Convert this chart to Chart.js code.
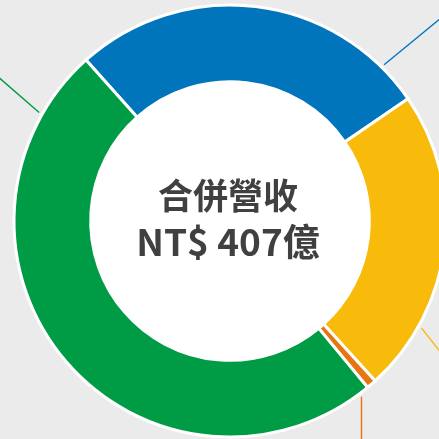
<!DOCTYPE html>
<html>
<head>
<meta charset="utf-8">
<script src="https://cdn.jsdelivr.net/npm/chart.js@4"></script>
<style>
  html, body { margin: 0; padding: 0; width: 439px; height: 439px; overflow: hidden; background: #EBEBEB; }
  #wrap { position: absolute; left: 0; top: -9px; width: 460px; height: 460px; }
</style>
</head>
<body>
<div id="wrap"><canvas id="c"></canvas></div>
<script>
// ---- data ----
const categories = ['類別一', '類別二', '類別三', '類別四'];
const revenueValues = [110, 93, 3, 201];          // 億 NT$
const segmentColors = ['#0175BC', '#F8BA0B', '#E8750F', '#009B45'];
const centerTitle = '合併營收';
const centerValue = 'NT$ 407億';

// leader lines (styling only): start angle (deg, clockwise from top), direction (deg), length
const leaderStyles = [
  { idx: 0, angle: 44.6,  dir: 50.6,  len: 120 },
  { idx: 3, angle: -60.4, dir: -49,   len: 120 },
  { idx: 1, angle: 119.2, dir: 141.9, len: 120 },
  { idx: 2, angle: 143.2, dir: 180,   len: 120 }
];

const leaderPlugin = {
  id: 'leaders',
  beforeDatasetsDraw(chart) {
    const arc = chart.getDatasetMeta(0).data[0];
    if (!arc) return;
    const cx = arc.x, cy = arc.y, R = arc.outerRadius;
    const ctx = chart.ctx;
    ctx.save();
    // white hole
    ctx.fillStyle = '#FFFFFF';
    ctx.beginPath();
    ctx.arc(cx, cy, arc.innerRadius + 1, 0, Math.PI * 2);
    ctx.fill();
    ctx.lineWidth = 1.4;
    leaderStyles.forEach(s => {
      const a = s.angle * Math.PI / 180, d = s.dir * Math.PI / 180;
      const r = R + 3.5;
      const x0 = cx + r * Math.sin(a), y0 = cy - r * Math.cos(a);
      const x1 = x0 + s.len * Math.sin(d), y1 = y0 - s.len * Math.cos(d);
      ctx.strokeStyle = segmentColors[s.idx];
      ctx.beginPath();
      ctx.moveTo(x0, y0);
      ctx.lineTo(x1, y1);
      ctx.stroke();
    });
    ctx.restore();
  },
  afterDatasetsDraw(chart) {
    const arc = chart.getDatasetMeta(0).data[0];
    if (!arc) return;
    const cx = arc.x, cy = arc.y;
    const ctx = chart.ctx;
    ctx.save();
    ctx.fillStyle = '#404040';
    ctx.textAlign = 'center';
    ctx.textBaseline = 'alphabetic';
    ctx.font = 'bold 35px "Noto Sans CJK TC", "Noto Sans", sans-serif';
    ctx.fillText(centerTitle, cx - 2, cy - 12);
    ctx.font = 'bold 37px "Noto Sans CJK TC", "Noto Sans", sans-serif';
    ctx.fillText(centerValue, cx - 2, cy + 35);
    ctx.restore();
  }
};

new Chart(document.getElementById('c'), {
  type: 'doughnut',
  data: {
    labels: categories,
    datasets: [{
      data: revenueValues,
      backgroundColor: segmentColors,
      borderColor: '#FFFFFF',
      borderWidth: 3,
      hoverBorderWidth: 3,
      hoverOffset: 0
    }]
  },
  options: {
    responsive: true,
    maintainAspectRatio: false,
    devicePixelRatio: 1,
    animation: false,
    radius: 216,
    cutout: '64.5%',
    rotation: -41.8,
    layout: { padding: 0 },
    plugins: {
      legend: { display: false },
      tooltip: { enabled: false }
    }
  },
  plugins: [leaderPlugin]
});
</script>
</body>
</html>
